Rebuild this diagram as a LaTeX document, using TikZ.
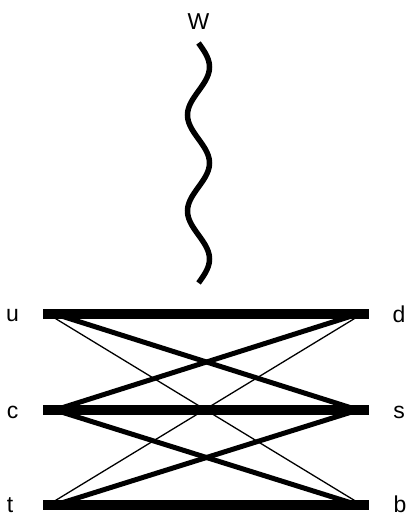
\documentclass[tikz,border=0pt]{standalone}
\usepackage{fontspec}
\setmainfont{Liberation Sans}
\begin{document}
\begin{tikzpicture}[x=1pt,y=-1pt,
  lbl/.style={inner sep=0pt,anchor=base,font=\fontsize{23}{27}\selectfont},
  bar/.style={line width=10pt,line cap=butt},
  mid/.style={line width=5pt,line cap=butt},
  thinline/.style={line width=1.3pt,line cap=butt}]
\useasboundingbox (0,0) rectangle (408,515);
% left / right anchor points
\foreach \n/\y in {u/314,c/410,t/505}{
  \coordinate (\n Lb) at (43,\y);
  \coordinate (\n Lm) at (55,\y);
  \coordinate (\n Lt) at (48,\y);
}
\foreach \n/\y in {d/314,s/410,b/505}{
  \coordinate (\n Rb) at (369,\y);
  \coordinate (\n Rm) at (358,\y);
  \coordinate (\n Rt) at (362,\y);
}
% labels
\node[lbl] (u) at (12.5,321.5) {u};
\node[lbl] (c) at (12.5,418.5) {c};
\node[lbl] (t) at (10,512) {t};
\node[lbl] (d) at (399,322.5) {d};
\node[lbl] (s) at (399,418.5) {s};
\node[lbl] (b) at (400,512) {b};
\node[lbl] (W) at (198.5,29) {W};
% wavy W line
\draw[line width=5.5pt,line cap=butt]
  plot[variable=\t,domain=0:2.5,samples=121,smooth] ({198.5+11*sin(360*\t)},{43+96*\t});
% thin diagonals
\draw[thinline] (uLt) -- (bRt);
\draw[thinline] (tLt) -- (dRt);
% medium diagonals
\draw[mid] (uLm) -- (sRm);
\draw[mid] (cLm) -- (dRm);
\draw[mid] (cLm) -- (bRm);
\draw[mid] (tLm) -- (sRm);
% thick horizontal bars
\draw[bar] (uLb) -- (dRb);
\draw[bar] (cLb) -- (sRb);
\draw[bar] (tLb) -- (bRb);
\end{tikzpicture}
\end{document}
